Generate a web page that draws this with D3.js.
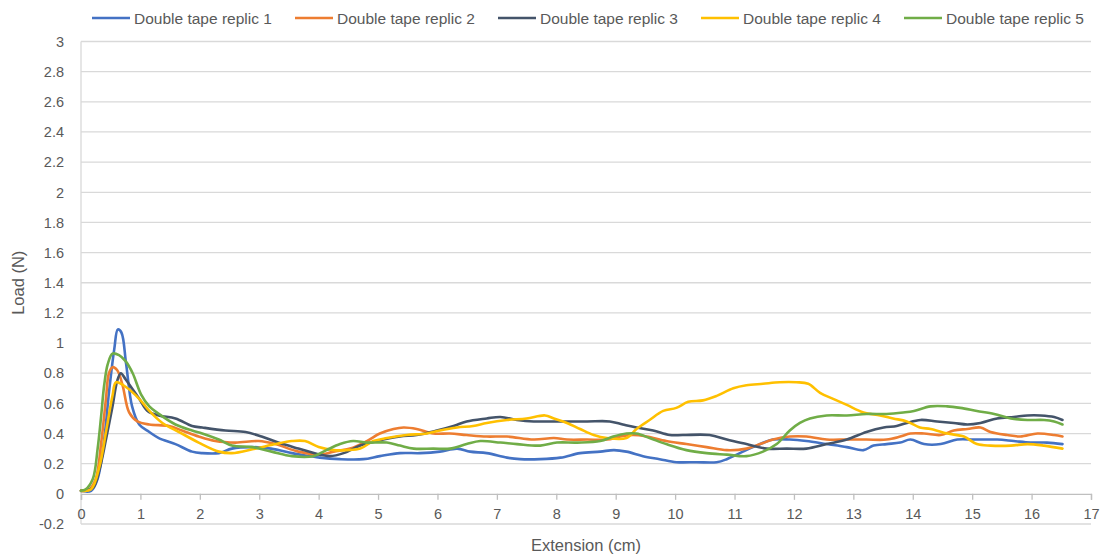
<!DOCTYPE html>
<html>
<head>
<meta charset="utf-8">
<script src="https://cdn.jsdelivr.net/npm/d3@7"></script>
<style>
  html, body { margin: 0; padding: 0; background: #fff; }
  svg { display: block; font-family: "Liberation Sans", "DejaVu Sans", sans-serif; }
</style>
</head>
<body>
<svg id="chart" width="1106" height="557"></svg>
<script>
// Load vs extension for five double-tape replicates: [extension cm, load N]
const replic1 = [[0,0.02],[0.17,0.02],[0.28,0.1],[0.39,0.36],[0.47,0.67],[0.56,0.96],[0.62,1.09],[0.68,1.07],[0.76,0.86],[0.86,0.58],[0.98,0.46],[1.15,0.41],[1.31,0.37],[1.59,0.33],[1.87,0.28],[2.04,0.27],[2.32,0.27],[2.54,0.30],[2.88,0.31],[3.2,0.30],[3.55,0.27],[3.69,0.26],[4.02,0.24],[4.36,0.23],[4.75,0.23],[5.03,0.25],[5.37,0.27],[5.71,0.27],[6.04,0.28],[6.33,0.30],[6.55,0.28],[6.83,0.27],[7.17,0.24],[7.39,0.23],[7.73,0.23],[8.07,0.24],[8.4,0.27],[8.74,0.28],[8.97,0.29],[9.18,0.28],[9.46,0.25],[9.74,0.23],[10.02,0.21],[10.36,0.21],[10.70,0.21],[10.87,0.23],[11.09,0.27],[11.37,0.32],[11.65,0.36],[11.93,0.36],[12.21,0.35],[12.55,0.33],[12.89,0.31],[13.17,0.29],[13.34,0.32],[13.56,0.33],[13.79,0.34],[13.96,0.36],[14.19,0.33],[14.47,0.33],[14.75,0.36],[15.03,0.36],[15.42,0.36],[15.7,0.35],[15.98,0.34],[16.26,0.34],[16.52,0.33]];
const replic2 = [[0,0.02],[0.14,0.03],[0.25,0.1],[0.34,0.34],[0.42,0.63],[0.47,0.80],[0.53,0.84],[0.61,0.82],[0.70,0.72],[0.81,0.54],[0.95,0.48],[1.15,0.46],[1.48,0.45],[1.70,0.42],[1.98,0.38],[2.26,0.35],[2.6,0.34],[2.99,0.35],[3.27,0.33],[3.66,0.28],[4.02,0.26],[4.25,0.28],[4.53,0.30],[4.81,0.35],[5.03,0.40],[5.26,0.43],[5.43,0.44],[5.65,0.43],[5.93,0.40],[6.21,0.40],[6.49,0.39],[6.83,0.38],[7.17,0.38],[7.62,0.36],[7.96,0.37],[8.18,0.36],[8.52,0.36],[8.85,0.36],[9.08,0.38],[9.29,0.39],[9.52,0.38],[9.85,0.35],[10.19,0.33],[10.53,0.31],[10.87,0.29],[11.2,0.30],[11.43,0.33],[11.65,0.36],[11.93,0.38],[12.21,0.38],[12.55,0.36],[12.89,0.36],[13.22,0.36],[13.56,0.36],[13.79,0.38],[13.96,0.40],[14.19,0.40],[14.47,0.39],[14.69,0.42],[14.92,0.43],[15.14,0.44],[15.31,0.41],[15.59,0.39],[15.81,0.38],[16.1,0.40],[16.38,0.39],[16.52,0.38]];
const replic3 = [[0,0.02],[0.2,0.04],[0.31,0.16],[0.42,0.36],[0.53,0.58],[0.61,0.75],[0.67,0.80],[0.75,0.76],[0.98,0.63],[1.12,0.55],[1.31,0.52],[1.59,0.50],[1.87,0.45],[2.04,0.44],[2.43,0.42],[2.77,0.41],[3.04,0.38],[3.32,0.34],[3.66,0.30],[4.02,0.26],[4.19,0.25],[4.42,0.27],[4.70,0.32],[4.98,0.35],[5.37,0.38],[5.65,0.39],[5.99,0.42],[6.27,0.45],[6.49,0.48],[6.83,0.50],[7.06,0.51],[7.34,0.49],[7.62,0.48],[7.9,0.48],[8.18,0.48],[8.52,0.48],[8.9,0.48],[9.12,0.46],[9.35,0.44],[9.63,0.42],[9.91,0.39],[10.13,0.39],[10.58,0.39],[10.87,0.36],[11.2,0.33],[11.54,0.30],[11.88,0.30],[12.21,0.30],[12.55,0.33],[12.89,0.36],[13.22,0.41],[13.51,0.44],[13.73,0.45],[13.9,0.47],[14.13,0.49],[14.41,0.48],[14.69,0.47],[14.92,0.46],[15.14,0.47],[15.42,0.50],[15.7,0.51],[15.93,0.52],[16.15,0.52],[16.38,0.51],[16.52,0.49]];
const replic4 = [[0,0.02],[0.17,0.03],[0.31,0.18],[0.42,0.41],[0.53,0.65],[0.59,0.74],[0.75,0.71],[0.98,0.63],[1.15,0.55],[1.37,0.47],[1.65,0.41],[1.98,0.34],[2.32,0.28],[2.54,0.27],[2.93,0.30],[3.27,0.33],[3.55,0.35],[3.77,0.35],[4.0,0.31],[4.25,0.29],[4.47,0.29],[4.70,0.30],[4.92,0.35],[5.15,0.37],[5.48,0.39],[5.82,0.40],[6.04,0.42],[6.33,0.44],[6.6,0.45],[6.83,0.47],[7.17,0.49],[7.5,0.50],[7.81,0.52],[7.96,0.50],[8.18,0.47],[8.4,0.43],[8.63,0.39],[8.85,0.37],[9.18,0.37],[9.35,0.43],[9.57,0.49],[9.80,0.55],[10.02,0.57],[10.22,0.61],[10.47,0.62],[10.70,0.65],[10.98,0.70],[11.2,0.72],[11.48,0.73],[11.76,0.74],[12.04,0.74],[12.24,0.73],[12.44,0.67],[12.66,0.63],[12.89,0.59],[13.17,0.54],[13.45,0.52],[13.67,0.50],[13.9,0.48],[14.12,0.44],[14.3,0.43],[14.58,0.40],[14.86,0.38],[15.08,0.33],[15.31,0.32],[15.65,0.32],[15.93,0.33],[16.21,0.32],[16.52,0.30]];
const replic5 = [[0,0.02],[0.08,0.03],[0.2,0.1],[0.28,0.3],[0.34,0.52],[0.39,0.72],[0.45,0.86],[0.53,0.93],[0.64,0.92],[0.75,0.88],[0.87,0.80],[1.01,0.66],[1.15,0.58],[1.31,0.53],[1.59,0.46],[1.87,0.42],[2.04,0.40],[2.32,0.36],[2.54,0.32],[2.88,0.31],[3.21,0.28],[3.55,0.25],[3.91,0.25],[4.13,0.29],[4.36,0.33],[4.58,0.35],[4.81,0.34],[5.15,0.34],[5.37,0.32],[5.6,0.30],[5.93,0.30],[6.21,0.30],[6.49,0.33],[6.72,0.35],[7.06,0.34],[7.34,0.33],[7.73,0.32],[8.01,0.34],[8.35,0.34],[8.74,0.35],[8.96,0.38],[9.18,0.40],[9.35,0.40],[9.57,0.37],[9.85,0.33],[10.19,0.29],[10.53,0.27],[10.87,0.26],[11.2,0.25],[11.48,0.28],[11.71,0.33],[11.93,0.42],[12.1,0.47],[12.27,0.50],[12.55,0.52],[12.89,0.52],[13.22,0.53],[13.56,0.53],[13.84,0.54],[14.02,0.55],[14.3,0.58],[14.58,0.58],[14.8,0.57],[15.08,0.55],[15.37,0.53],[15.65,0.50],[15.93,0.49],[16.21,0.49],[16.38,0.48],[16.52,0.46]];

const seriesNames = ["Double tape replic 1", "Double tape replic 2", "Double tape replic 3", "Double tape replic 4", "Double tape replic 5"];
const seriesColors = ["#4472C4", "#ED7D31", "#44546A", "#FFC000", "#70AD47"];
const seriesData = [replic1, replic2, replic3, replic4, replic5];

const xTicks = d3.range(0, 18, 1);
const yTicks = [-0.2, 0, 0.2, 0.4, 0.6, 0.8, 1, 1.2, 1.4, 1.6, 1.8, 2, 2.2, 2.4, 2.6, 2.8, 3];
const xTitle = "Extension (cm)";
const yTitle = "Load (N)";

const svg = d3.select("#chart");
const plot = { left: 81, right: 1091, top: 41.5, bottom: 524 };

const x = d3.scaleLinear().domain([0, 17]).range([plot.left, plot.right]);
const y = d3.scaleLinear().domain([-0.2, 3]).range([plot.bottom, plot.top]);

const textColor = "#595959";
const gridColor = "#d9d9d9";

// horizontal gridlines
svg.append("g").selectAll("line")
  .data(yTicks.filter(v => v !== 0))
  .join("line")
  .attr("x1", plot.left).attr("x2", plot.right)
  .attr("y1", d => y(d)).attr("y2", d => y(d))
  .attr("stroke", gridColor).attr("stroke-width", 1.3);

// vertical axis line
svg.append("line")
  .attr("x1", plot.left).attr("x2", plot.left)
  .attr("y1", plot.top).attr("y2", plot.bottom)
  .attr("stroke", gridColor).attr("stroke-width", 1.3);

// y tick labels
svg.append("g").selectAll("text")
  .data(yTicks)
  .join("text")
  .attr("x", 64).attr("y", d => y(d))
  .attr("dy", "0.36em")
  .attr("text-anchor", "end")
  .attr("fill", textColor)
  .attr("font-size", 14.5)
  .text(d => String(d));

// x axis at zero load, ticks pointing down
const xAxis = d3.axisBottom(x).tickValues(xTicks).tickSize(6).tickPadding(9).tickFormat(d3.format("d"));
const gx = svg.append("g").attr("transform", `translate(0,${y(0)})`).call(xAxis);
gx.select(".domain").attr("stroke", "#bfbfbf").attr("stroke-width", 1.3);
gx.selectAll(".tick line").attr("stroke", "#bfbfbf").attr("stroke-width", 1.3);
gx.selectAll(".tick text").attr("fill", textColor).attr("font-size", 14.5)
  .attr("font-family", "Liberation Sans, DejaVu Sans, sans-serif");

// series lines
const line = d3.line()
  .x(d => x(d[0]))
  .y(d => y(d[1]))
  .curve(d3.curveCatmullRom.alpha(0.5));

svg.append("g").selectAll("path")
  .data(seriesData)
  .join("path")
  .attr("d", d => line(d))
  .attr("fill", "none")
  .attr("stroke", (d, i) => seriesColors[i])
  .attr("stroke-width", 2.6)
  .attr("stroke-linejoin", "round")
  .attr("stroke-linecap", "round");

// axis titles
svg.append("text")
  .attr("x", 586).attr("y", 551)
  .attr("text-anchor", "middle")
  .attr("fill", textColor).attr("font-size", 16.5)
  .text(xTitle);

svg.append("text")
  .attr("transform", `translate(24,${(plot.top + plot.bottom) / 2}) rotate(-90)`)
  .attr("text-anchor", "middle")
  .attr("fill", textColor).attr("font-size", 16.5)
  .text(yTitle);

// legend
const legend = svg.append("g").selectAll("g")
  .data(seriesNames)
  .join("g")
  .attr("transform", (d, i) => `translate(${92 + i * 203},18)`);

legend.append("line")
  .attr("x1", 0).attr("x2", 38)
  .attr("stroke", (d, i) => seriesColors[i])
  .attr("stroke-width", 2.6);

legend.append("text")
  .attr("x", 42).attr("dy", "0.36em")
  .attr("fill", textColor).attr("font-size", 15.5)
  .text(d => d);
</script>
</body>
</html>
